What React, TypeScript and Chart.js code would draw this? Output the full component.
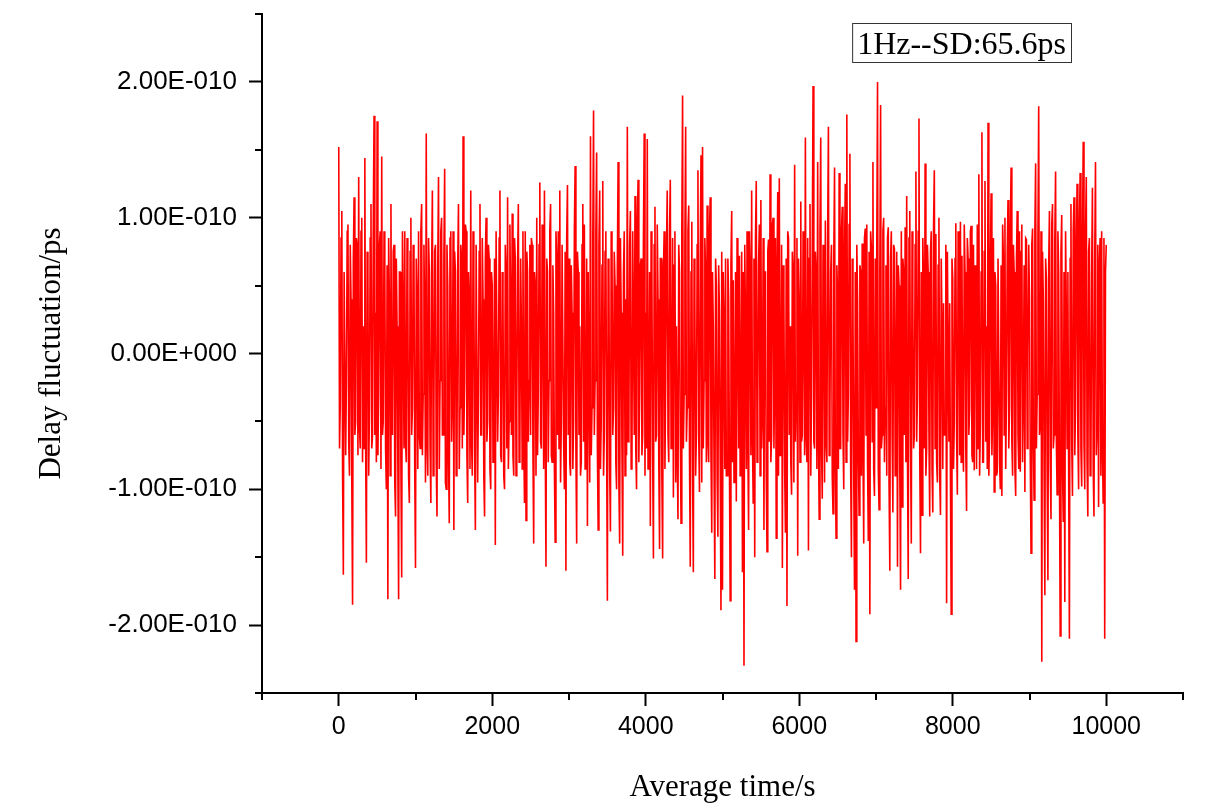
import React, { useEffect, useRef } from "react";
import { Chart, registerables } from "chart.js";

Chart.register(...registerables);

// Sampling interval of the plotted series (seconds)
const sampleIntervalS = 10;

// Delay fluctuation values in ps (t = 0 .. 2490 s)
const delayPsPart1 = [
  152, -70, -38, 85, 105, -90, -163, 60, 60, -75, -20, 90, 95, -65, -90, 80, 40, -95, -185, 70, 115, -60, -50, 85, 80, -75, 130, -55, -70, 90, 100, -80, 20, -70, 144, -65, -154, 75, 60, -90, -40, 85, 110, -70, -60, 95, 175, -60, 30, -80,
  171, -75, -30, 80, 90, -85, 145, -60, -50, 90, 70, -70, -100, 65, -181, 85, 40, -90, 110, -55, -60, 75, 80, -95, -120, 70, 20, -80, -181, 60, 60, -85, -165, 90, 30, -70, 90, -65, -80, 85, 50, -90, -110, 75, 100, -60, -40, 80, 70, -85,
  -158, 70, 40, -85, 90, -60, -70, 90, 110, -75, -30, 80, 20, -95, 162, -65, -90, 85, 60, -70, -110, 60, 120, -90, -40, 75, 80, -80, -120, 65, 130, -85, -20, 90, 100, -60, -60, 70, 136, -95, -100, 80, 50, -75, -125, 85, 90, -65, -30, 90,
  -130, 75, 60, -90, -80, 65, 110, -85, -40, 80, 70, -70, 160, -60, -20, 95, 90, -75, -110, 60, 40, -85, 120, -65, -90, 90, 60, -70, -130, 80, 80, -95, -30, 75, 110, -60, -60, 85, 40, -90, -120, 70, 100, -65, -50, 80, 70, -85, -100, 60,
  50, -80, -60, 70, -141, 90, 90, -65, -30, 85, 120, -75, -80, 60, 40, -90, -100, 80, 60, -70, 115, -85, -50, 95, 30, -60, 103, -75, -90, 85, 70, -90, -40, 65, 110, -80, -70, 70, 20, -85, 90, -60, -110, 90, -123, 75, 60, -65, -20, 80,
];
// t = 2500 .. 4990 s
const delayPsPart2 = [
  -60, 85, 80, -70, -140, 60, 50, -90, 100, -75, -30, 80, 126, -65, -70, 95, 40, -85, 120, -60, -157, 70, 60, -80, -20, 90, 110, -75, -80, 65, 30, -85, -139, 90, 70, -60, 90, -70, 120, -95, -50, 80, 80, -65, -100, 75, -160, 85, 124, -60,
  70, -80, -90, 65, 30, -85, -50, 90, 138, -70, -140, 75, 60, -60, 20, -90, -80, 80, 110, -65, 95, -85, -60, 70, -127, 60, 60, -95, 160, -75, -40, 85, 179, -60, -20, 90, 148, -70, -130, 80, 120, -85, -50, 65, 127, -90, -60, 75, 90, -60,
  -182, 70, 60, -85, -131, 90, 80, -60, -40, 75, 50, -80, -100, 65, 141, -95, -140, 85, 30, -70, -149, 60, 90, -90, 40, -75, 167, -65, -60, 80, 105, -85, -80, 90, 20, -60, 116, -70, -100, 95, 128, -80, -30, 65, 70, -75, -60, 85, 162, -90,
  30, -70, 158, -85, -50, 60, -127, 90, 60, -75, -151, 80, 108, -65, -60, 95, 40, -80, -144, 70, 70, -90, -151, 60, 90, -85, -20, 75, 120, -60, -80, 90, 128, -70, -40, 85, -106, 65, 90, -95, 20, -75, -122, 80, 60, -60, -125, 90, 190, -70,
  -30, 80, 167, -65, -40, 90, 109, -75, -157, 60, 97, -85, -161, 70, 40, -90, -60, 80, 135, -60, -102, 75, 146, -95, 152, -70, -20, 85, 60, -80, 109, -65, -80, 90, 115, -75, -132, 60, 20, -85, -166, 70, 50, -90, -135, 65, 30, -80, -189, 75,
];
// t = 5000 .. 7490 s
const delayPsPart3 = [
  -174, 60, 20, -85, 70, -90, -90, 70, 40, -75, -182, 65, 105, -80, 54, -95, -60, 60, -109, 85, 30, -70, 72, -90, -40, 75, -161, 60, -230, 80, 20, -85, 90, -65, -130, 90, 60, -75, 120, -60, -110, 70, -150, 85, 127, -80, -40, 65, 95, -90,
  113, -70, -40, 85, -130, 60, 60, -90, -146, 75, 84, -65, 132, -80, -60, 95, 100, -70, -20, 85, -136, 60, 119, -90, 129, -75, -50, 80, -158, 65, 40, -85, -132, 70, -186, 90, 85, -60, 20, -80, -104, 75, 60, -95, 139, -65, -30, 85, -149, 70,
  40, -80, 112, -65, -60, 90, 30, -75, 159, -60, -80, 85, -145, 70, 110, -90, -30, 80, 197, -65, -70, 75, 60, -85, 141, -60, -122, 90, 159, -70, -107, 80, 50, -95, 98, -65, -80, 85, 167, -75, -40, 60, 80, -90, -118, 70, 137, -80, -136, 65,
  40, -85, 133, -70, -70, 90, 108, -60, -100, 75, 125, -80, 176, -65, -30, 95, 147, -85, -150, 70, 30, -90, -174, 60, -212, 80, 40, -75, -119, 65, 60, -90, 81, -70, -140, 85, 92, -60, 95, -80, -138, 75, -192, 90, 78, -65, 141, -85, -105, 70,
  -40, 75, 200, -85, -115, 60, 183, -70, -60, 90, 100, -80, -40, 65, -90, 85, 93, -95, -160, 70, 90, -60, -117, 80, 77, -90, -30, 75, -157, 65, 50, -85, -174, 90, -113, 70, 60, -60, 93, -80, 116, -75, -166, 85, 105, -65, -140, 90, 40, -70,
];
// t = 7500 .. 10000 s
const delayPsPart4 = [
  -60, 80, 134, -65, -30, 90, 173, -75, -147, 60, -119, 85, 50, -70, 140, -90, -70, 80, 60, -60, -120, 75, 90, -85, -117, 95, 135, -70, 88, -80, -95, 65, 100, -90, -119, 70, 20, -85, 37, -60, -60, 80, -184, 75, 0, -65, 37, -90, -192, 70,
  55, -85, -50, 70, 96, -60, -104, 90, 40, -75, 97, -80, 72, -65, -87, 95, 60, -70, -116, 85, 70, -60, -40, 90, 94, -75, -80, 80, -86, 65, 60, -85, 95, -70, 132, -90, -50, 60, 163, -80, -80, 75, 127, -65, 20, -85, 170, -90, -60, 70,
  118, -75, -40, 85, -102, 60, 50, -90, -87, 70, 70, -80, -100, 65, -105, 95, 70, -60, 100, -85, -30, 75, 113, -70, -40, 90, 137, -65, -90, 80, 60, -85, -105, 70, 105, -60, -85, 90, -87, 75, 95, -80, -30, 65, -102, 85, 84, -70, 0, 80,
  40, -75, -147, 80, 92, -65, -108, 90, 140, -70, -30, 85, 182, -60, -50, 90, -227, 75, 40, -85, -178, 70, 55, -90, -167, 65, 105, -80, -122, 95, 110, -70, -60, 85, 134, -65, -104, 90, 60, -80, -208, 75, 102, -85, -124, 60, -183, 90, 30, -70,
  60, -85, -210, 70, 110, -65, -105, 90, 115, -75, -40, 80, 125, -60, -100, 95, 133, -70, -98, 85, 156, -65, -100, 90, 130, -80, -120, 75, 85, -90, -85, 60, 122, -85, -120, 70, 141, -75, -55, 80, -113, 65, 85, -90, 90, -70, -110, 85, -210, 60, 80,
];

const xMajorTicks = [0, 2000, 4000, 6000, 8000, 10000];
const xMinorTicks = [-1000, 1000, 3000, 5000, 7000, 9000, 11000];
const yMajorTicks = [-2e-10, -1e-10, 0, 1e-10, 2e-10];
const yMinorTicks = [-2.5e-10, -1.5e-10, -0.5e-10, 0.5e-10, 1.5e-10, 2.5e-10];

const legendText = "1Hz--SD:65.6ps";
const xTitle = "Average time/s";
const yTitle = "Delay fluctuation/ps";

function originSci(v: number): string {
  if (Math.abs(v) < 1e-20) return "0.00E+000";
  const e = Math.floor(Math.log10(Math.abs(v)) + 1e-9);
  const m = v / Math.pow(10, e);
  const sign = e < 0 ? "-" : "+";
  return m.toFixed(2) + "E" + sign + String(Math.abs(e)).padStart(3, "0");
}

const extras = {
  id: "originExtras",
  afterDraw(chart: any) {
    const { ctx, chartArea } = chart;
    const xs = chart.scales.x;
    const ys = chart.scales.y;
    ctx.save();
    ctx.strokeStyle = "#000";
    ctx.lineWidth = 2;
    xMinorTicks.forEach((v) => {
      const px = Math.round(xs.getPixelForValue(v));
      ctx.beginPath();
      ctx.moveTo(px, chartArea.bottom);
      ctx.lineTo(px, chartArea.bottom + 7);
      ctx.stroke();
    });
    yMinorTicks.forEach((v) => {
      const py = Math.round(ys.getPixelForValue(v));
      ctx.beginPath();
      ctx.moveTo(chartArea.left, py);
      ctx.lineTo(chartArea.left - 7, py);
      ctx.stroke();
    });
    // text box
    ctx.font = "32px 'Liberation Serif', 'Times New Roman', serif";
    const tw = ctx.measureText(legendText).width;
    const boxRight = chartArea.right - 112;
    const boxTop = chartArea.top + 9;
    const boxW = tw + 10;
    const boxH = 39;
    ctx.lineWidth = 1;
    ctx.strokeStyle = "#333";
    ctx.strokeRect(boxRight - boxW + 0.5, boxTop + 0.5, boxW, boxH);
    ctx.fillStyle = "#000";
    ctx.textBaseline = "alphabetic";
    ctx.textAlign = "left";
    ctx.fillText(legendText, boxRight - boxW + 5, boxTop + 31);
    ctx.restore();
  },
};

export default function App() {
  const ref = useRef<HTMLCanvasElement | null>(null);

  useEffect(() => {
    if (!ref.current) return;
    const values = [...delayPsPart1, ...delayPsPart2, ...delayPsPart3, ...delayPsPart4];
    const points = values.map((v, i) => ({ x: i * sampleIntervalS, y: v * 1e-12 }));

    const chart = new Chart(ref.current, {
      type: "line",
      data: {
        datasets: [
          {
            data: points,
            borderColor: "#ff0000",
            borderWidth: 1.6,
            pointRadius: 0,
            tension: 0,
            fill: false,
          },
        ],
      },
      options: {
        animation: false,
        responsive: true,
        maintainAspectRatio: false,
        parsing: false as any,
        layout: { padding: { top: 14, right: 26, left: 0, bottom: 0 } },
        plugins: {
          legend: { display: false },
          tooltip: { enabled: false },
        },
        scales: {
          x: {
            type: "linear",
            min: -1000,
            max: 11000,
            afterBuildTicks: (s: any) => {
              s.ticks = xMajorTicks.map((value) => ({ value }));
            },
            afterFit: (s: any) => {
              s.height = 118;
              s.paddingLeft = 0;
              s.paddingRight = 0;
            },
            ticks: {
              color: "#000",
              font: { family: "'Liberation Sans', Arial, sans-serif", size: 25 },
              padding: 6,
              maxRotation: 0,
              autoSkip: false,
              callback: (v: any) => String(v),
            },
            grid: {
              display: true,
              drawOnChartArea: false,
              drawTicks: true,
              tickLength: 13,
              tickWidth: 2,
              tickColor: "#000",
            },
            border: { display: true, color: "#000", width: 2 },
            title: {
              display: true,
              text: xTitle,
              color: "#000",
              font: { family: "'Liberation Serif', 'Times New Roman', serif", size: 31 },
              padding: { top: 0, bottom: 5 },
            },
          },
          y: {
            type: "linear",
            min: -2.5e-10,
            max: 2.5e-10,
            afterBuildTicks: (s: any) => {
              s.ticks = yMajorTicks.map((value) => ({ value }));
            },
            afterFit: (s: any) => {
              s.width = 262;
              s.paddingTop = 0;
              s.paddingBottom = 0;
            },
            ticks: {
              color: "#000",
              font: { family: "'Liberation Sans', Arial, sans-serif", size: 26 },
              padding: 12,
              autoSkip: false,
              callback: (v: any) => originSci(Number(v)),
            },
            grid: {
              display: true,
              drawOnChartArea: false,
              drawTicks: true,
              tickLength: 13,
              tickWidth: 2,
              tickColor: "#000",
            },
            border: { display: true, color: "#000", width: 2 },
            title: {
              display: true,
              text: yTitle,
              color: "#000",
              font: { family: "'Liberation Serif', 'Times New Roman', serif", size: 31 },
              padding: { top: 33, bottom: 0 },
            },
          },
        },
      },
      plugins: [extras],
    });
    return () => chart.destroy();
  }, []);

  return (
    <div style={{ position: "fixed", left: 0, top: 0, width: 1209, height: 811, background: "#fff" }}>
      <canvas ref={ref} />
    </div>
  );
}
